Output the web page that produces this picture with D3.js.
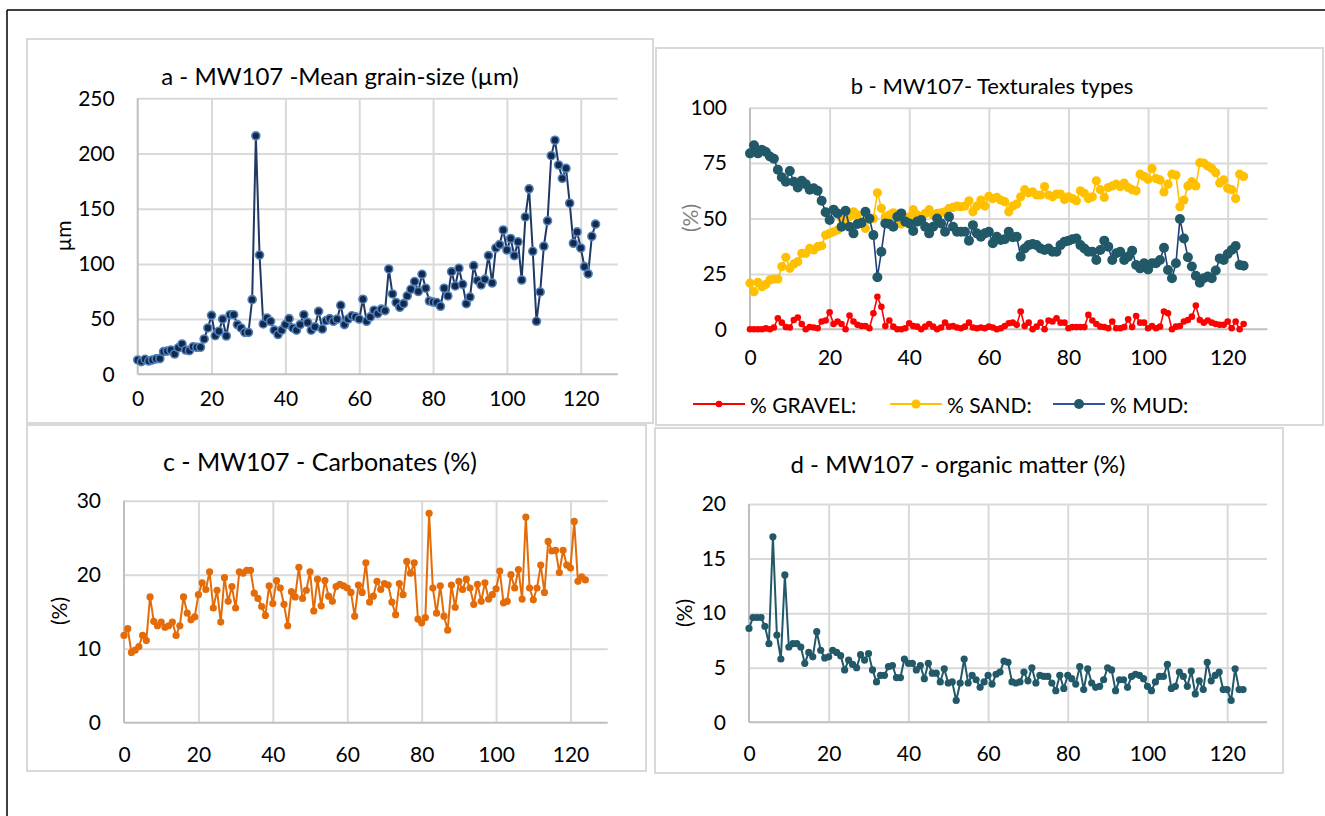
<!DOCTYPE html>
<html>
<head>
<meta charset="utf-8">
<script src="https://cdn.jsdelivr.net/npm/d3@7"></script>
<style>
  body { margin: 0; background: #fff; }
  svg { display: block; }
  text { font-family: Lato, "Open Sans", sans-serif; fill: #000; }
</style>
</head>
<body>
<svg id="fig" width="1325" height="816"></svg>
<script>
// Sample index along the core (0 = top)
const sampleIndex = d3.range(0, 125);

// a - Mean grain-size (µm)
const meanGrainSize = [
  13, 11.5, 13.6, 12, 13, 14, 14.2, 20.5, 21, 22,
  18.4, 24, 27.5, 22, 21.4, 25, 24.5, 24.5, 32, 42,
  53.4, 35, 39, 50, 34.7, 54, 54, 45, 42, 38,
  38, 67.6, 216, 108, 45.6, 51, 48, 40, 36, 40,
  45, 50.4, 42, 40, 45, 54, 47, 40, 43, 57,
  41, 48.6, 50.4, 48, 50, 62.5, 45, 50, 53, 52,
  50, 68, 48, 52, 58, 55, 59, 57.7, 95.4, 72.8,
  65, 60.7, 64, 71, 77, 84, 75, 90.6, 78, 66.4,
  65.5, 65, 61.6, 78, 71, 93, 80, 96, 81.5, 64,
  70, 98.4, 85, 81, 86, 107.5, 82.7, 114.4, 117.5, 130.7,
  112.6, 123, 107.5, 120, 85.4, 142.5, 168, 111.4, 48, 74.6,
  116, 139, 198, 212, 189.6, 177.5, 186.6, 155, 118.7, 129,
  114.4, 97.5, 91, 125, 136
];

// b - Textural fractions (%)
const gravelPct = [
  0, 0, 0, 0, 0.4, 0, 0.8, 5, 3, 1,
  0.8, 4.2, 5.3, 2.4, 0, 1, 0.8, 0.5, 3.5, 4,
  7.7, 2.4, 3.5, 2.4, 0, 6.2, 3.5, 2, 1.5, 1.5,
  0.5, 7.2, 14.7, 10.2, 1.5, 4, 1.2, 0, 0, 0.5,
  2.7, 1.5, 1.2, 0, 1.2, 2.4, 1.2, 0, 0.8, 3,
  1.2, 1.5, 0.8, 0.5, 1.2, 3, 0.8, 0.5, 0.8, 0.5,
  1.2, 0.8, 0, 0.5, 1.5, 2.7, 3, 2, 8, 1.5,
  3, 0, 1.2, 3, 0, 4, 3.5, 5, 3, 3,
  0.5, 1, 1, 1, 1, 6.5, 4, 2.4, 1.2, 1,
  0.5, 3.5, 0.5, 0.5, 1, 4.5, 1, 6, 3, 3,
  0.5, 1.5, 0.5, 1.2, 8, 7.2, 0, 1.2, 1.5, 3.5,
  4.2, 5.7, 10.7, 4.2, 3, 4, 3, 2.4, 2, 2,
  3.5, 0.5, 3.5, 0, 2.4
];
const sandPct = [
  20.8, 17, 21.2, 19.2, 20.3, 22.3, 22.7, 22.7, 28.3, 32.5,
  27.5, 29.5, 30.5, 34.3, 34.3, 36.5, 35.8, 37.3, 37.7, 42.5,
  43.3, 44, 44.8, 50, 50, 50.8, 53, 51.6, 48.6, 45.5,
  49.6, 50, 61.6, 54.6, 50.8, 51.6, 52.6, 49.3, 47.5, 49.6,
  50.8, 54, 51.6, 50.5, 52.3, 54, 51.6, 52.3, 52.6, 53,
  54.6, 55, 55.6, 55.3, 55.6, 58, 53, 55.6, 58.3, 55.6,
  60, 59, 59.5, 58.3, 57.6, 53, 55.6, 56.5, 59.8, 63,
  61.6, 62, 60.6, 60.6, 64.4, 60.6, 59.8, 61, 61, 58.6,
  59.8, 59, 58, 62.5, 61.4, 59, 59.8, 67, 63, 59.5,
  64, 64.7, 65.5, 64.4, 66, 64, 63, 62.5, 70, 69,
  67.7, 72.6, 68, 67.4, 62, 65.5, 70, 69.6, 55.3, 58.3,
  64.7, 66.6, 64.7, 75.2, 75, 73.7, 72.6, 70.7, 66, 67.4,
  63.6, 63, 59, 70, 69
];
const mudPct = [
  79.4, 83, 79.4, 81, 80, 78, 77, 72, 68.6, 66.6,
  71.4, 66.6, 64, 67, 65.5, 63, 63.6, 62.5, 58, 52.8,
  49.3, 54, 52.3, 46.3, 53.5, 46.3, 43.3, 47.5, 48, 53,
  50, 42.5, 23.5, 35, 47.8, 47.5, 46.3, 50.8, 52.3, 48.6,
  47.8, 44.4, 48.6, 49.3, 46.3, 43.3, 46.3, 50, 47.8, 44,
  50.8, 46.3, 44, 44, 44, 40, 47, 43.3, 41.8, 43.3,
  44, 38.8, 41.8, 40.3, 40.6, 44, 41.5, 41.8, 32.8, 36.5,
  38, 38.5, 38, 36.5, 35.8, 36.5, 35, 35, 38, 39.5,
  40, 40.6, 41, 38, 36.5, 35, 35, 31.3, 35.8, 40,
  37.3, 31.3, 34.3, 35, 31.3, 32.8, 35.5, 29, 27.5, 29.8,
  27, 29.8, 29.8, 31.3, 36.8, 26.8, 23, 29.8, 49.8, 41,
  32.5, 28.3, 24.2, 21, 23, 23.8, 23, 26.5, 32, 31.3,
  34, 35.8, 37.6, 29, 28.7
];

// c - Carbonates (%)
const carbonatesPct = [
  11.8, 12.7, 9.5, 9.8, 10.3, 11.8, 11.1, 17, 13.7, 13.1,
  13.6, 12.9, 13.1, 13.6, 11.8, 13.1, 17, 14.8, 13.9, 14.3,
  17.3, 18.9, 18, 20.4, 15.5, 17.9, 13.6, 19.6, 16.4, 18.4,
  15.5, 20.4, 20.2, 20.6, 20.6, 17.5, 16.8, 15.7, 14.5, 18.5,
  16.1, 19.2, 18.2, 16, 13.1, 17.7, 17, 21, 16.8, 17.9,
  20.4, 15.1, 19.4, 15.8, 19.2, 17.1, 16.4, 18.4, 18.7, 18.5,
  18.2, 17.6, 14.4, 18.6, 17.6, 21.6, 16.3, 17.1, 19.1, 18,
  18.8, 18.6, 16.3, 14.6, 18.8, 17.3, 21.8, 20.2, 21.6, 14,
  13.5, 14.2, 28.3, 18.2, 14.8, 18.5, 14.4, 12.5, 18.6, 15.6,
  19.1, 18, 19.4, 18.2, 16, 18.7, 16.4, 18.9, 16.7, 17.3,
  18.1, 20.5, 16.2, 16.4, 20, 18.2, 20.7, 16.7, 27.8, 18.2,
  16.6, 18.2, 21.3, 17.6, 24.5, 23.2, 23.3, 20.3, 23.3, 21.3,
  20.9, 27.2, 19.1, 19.7, 19.3
];

// d - Organic matter (%)
const organicMatterPct = [
  8.6, 9.6, 9.6, 9.6, 8.8, 7.2, 17, 8, 5.8, 13.5,
  6.9, 7.2, 7.2, 6.9, 5.4, 6.4, 6, 8.3, 6.6, 5.9,
  6, 6.6, 6.4, 6.1, 4.8, 5.7, 5.3, 5, 6.2, 5.7,
  6.3, 4.8, 3.7, 4.3, 4.3, 5.1, 5.2, 4.1, 4.1, 5.8,
  5.4, 5.4, 4.8, 5.2, 4, 5.4, 4.5, 4.5, 3.7, 4.9,
  3.6, 3.7, 2, 3.6, 5.8, 3.6, 4.3, 3.9, 3.2, 3.7,
  4.3, 3.5, 4.4, 4.6, 5.6, 5.5, 3.7, 3.6, 3.7, 4.6,
  3.8, 5, 3.6, 4.3, 4.2, 4.2, 3.6, 2.9, 4.3, 3.1,
  4.3, 4, 3.5, 5.1, 3, 4.9, 3.6, 3.2, 3.3, 3.9,
  5, 4.8, 2.9, 3.9, 3.9, 3.2, 4.2, 4.4, 4.3, 4,
  3.3, 2.9, 3.7, 4.2, 4.2, 5.3, 3.1, 3.3, 4.6, 4.2,
  3.3, 4.7, 2.6, 3.8, 3, 5.5, 3.8, 4.3, 4.6, 3,
  3, 2, 4.9, 3, 3
];

// Axis ticks
const xTicks = [0, 20, 40, 60, 80, 100, 120];
const yTicksA = [0, 50, 100, 150, 200, 250];
const yTicksB = [0, 25, 50, 75, 100];
const yTicksC = [0, 10, 20, 30];
const yTicksD = [0, 5, 10, 15, 20];

const svg = d3.select("#fig");
const GRID = "#d9d9d9", AXIS = "#bfbfbf";

// Outer frame (top and left edges)
svg.append("line").attr("x1", 7).attr("y1", 10).attr("x2", 1325).attr("y2", 10)
  .attr("stroke", "#000").attr("stroke-width", 1.5);
svg.append("line").attr("x1", 7).attr("y1", 10).attr("x2", 7).attr("y2", 816)
  .attr("stroke", "#000").attr("stroke-width", 1.5);

function drawPanel(p) {
  const g = svg.append("g");
  g.append("rect").attr("x", p.box[0]).attr("y", p.box[1])
    .attr("width", p.box[2] - p.box[0]).attr("height", p.box[3] - p.box[1])
    .attr("fill", "#fff").attr("stroke", GRID).attr("stroke-width", 2);

  g.append("text").attr("x", p.titleX).attr("y", p.titleY)
    .attr("text-anchor", "middle").attr("font-size", p.titleSize).text(p.title);

  const x = d3.scaleLinear().domain([0, 130]).range([p.plot[0], p.plot[2]]);
  const y = d3.scaleLinear().domain([0, p.yTicks[p.yTicks.length - 1]]).range([p.plot[3], p.plot[1]]);
  const h = p.plot[3] - p.plot[1], w = p.plot[2] - p.plot[0];

  // gridlines
  g.append("g").attr("transform", `translate(0,${p.plot[3]})`)
    .call(d3.axisBottom(x).tickValues(xTicks.slice(1)).tickSize(-h).tickFormat(""))
    .call(s => { s.select(".domain").remove(); s.selectAll("line").attr("stroke", GRID).attr("stroke-width", 2); });
  g.append("g").attr("transform", `translate(${p.plot[0]},0)`)
    .call(d3.axisLeft(y).tickValues(p.yTicks.slice(1)).tickSize(-w).tickFormat(""))
    .call(s => { s.select(".domain").remove(); s.selectAll("line").attr("stroke", GRID).attr("stroke-width", 2); });

  // axis lines
  g.append("line").attr("x1", p.plot[0]).attr("x2", p.plot[0]).attr("y1", p.plot[1]).attr("y2", p.plot[3])
    .attr("stroke", AXIS).attr("stroke-width", 2);
  g.append("line").attr("x1", p.plot[0]).attr("x2", p.plot[2]).attr("y1", p.plot[3]).attr("y2", p.plot[3])
    .attr("stroke", AXIS).attr("stroke-width", 2);

  // tick labels
  g.append("g").attr("transform", `translate(0,${p.plot[3]})`)
    .call(d3.axisBottom(x).tickValues(xTicks).tickSize(0).tickPadding(p.xPad))
    .call(s => { s.select(".domain").remove(); s.selectAll("text").attr("font-size", 21).attr("font-family", "Lato").attr("fill", "#000"); });
  g.append("g").attr("transform", `translate(${p.plot[0]},0)`)
    .call(d3.axisLeft(y).tickValues(p.yTicks).tickSize(0).tickPadding(p.yPad))
    .call(s => { s.select(".domain").remove(); s.selectAll("text").attr("font-size", 21).attr("font-family", "Lato").attr("fill", "#000"); });

  // y-axis title
  g.append("text").attr("transform", `translate(${p.yLabel[0]},${p.yLabel[1]}) rotate(-90)`)
    .attr("text-anchor", "middle").attr("dominant-baseline", "central")
    .attr("font-size", 21).style("fill", p.yLabelColor || "#000").text(p.yLabelText);

  // series
  p.series.forEach(s => {
    const pts = sampleIndex.map((i, k) => [i, s.values[k]]);
    g.append("path").datum(pts)
      .attr("d", d3.line().x(d => x(d[0])).y(d => y(d[1])))
      .attr("fill", "none").attr("stroke", s.line).attr("stroke-width", s.lw || 2)
      .attr("stroke-linejoin", "round");
    g.append("g").selectAll("circle").data(pts).join("circle")
      .attr("cx", d => x(d[0])).attr("cy", d => y(d[1])).attr("r", s.r)
      .attr("fill", s.fill).attr("stroke", s.stroke || "none").attr("stroke-width", s.sw || 0);
  });
  return { x, y };
}

// a
drawPanel({
  box: [27, 39, 653, 423], plot: [137.7, 98.3, 617.7, 374.3],
  title: "a - MW107 -Mean grain-size (µm)", titleX: 340, titleY: 85, titleSize: 24,
  yTicks: yTicksA, xPad: 17, yPad: 23,
  yLabel: [62, 236], yLabelText: "µm",
  series: [{ values: meanGrainSize, line: "#1f3864", r: 4, fill: "#14284a", stroke: "#4f81bd", sw: 1.6 }]
});

// b
drawPanel({
  box: [656, 48, 1323, 425], plot: [750, 107.7, 1267.5, 329.3],
  title: "b - MW107- Texturales types", titleX: 992, titleY: 94, titleSize: 22,
  yTicks: yTicksB, xPad: 21, yPad: 23,
  yLabel: [689, 218], yLabelText: "(%)", yLabelColor: "#7f7f7f",
  series: [
    { values: gravelPct, line: "#ff0000", r: 3.3, fill: "#ff0000", lw: 1.6 },
    { values: sandPct, line: "#ffc000", r: 4.6, fill: "#ffc000", lw: 1.6 },
    { values: mudPct, line: "#1f3f7a", r: 5, fill: "#215968", lw: 1.6 }
  ]
});

// legend for b
const legendItems = [
  { label: "% GRAVEL:", color: "#ff0000", marker: "#ff0000", r: 3.3, x: 693 },
  { label: "% SAND:", color: "#ffc000", marker: "#ffc000", r: 4.6, x: 890 },
  { label: "% MUD:", color: "#2e5597", marker: "#215968", r: 5, x: 1053 }
];
const lg = svg.append("g");
legendItems.forEach(it => {
  lg.append("line").attr("x1", it.x).attr("x2", it.x + 52).attr("y1", 404).attr("y2", 404)
    .attr("stroke", it.color).attr("stroke-width", 2);
  lg.append("circle").attr("cx", it.x + 26).attr("cy", 404).attr("r", it.r).attr("fill", it.marker);
  lg.append("text").attr("x", it.x + 57).attr("y", 404).attr("dominant-baseline", "central")
    .attr("font-size", 21).text(it.label);
});

// c
drawPanel({
  box: [27, 425, 646, 771], plot: [124, 500.7, 607.7, 722.7],
  title: "c - MW107 - Carbonates (%)", titleX: 320, titleY: 471, titleSize: 25,
  yTicks: yTicksC, xPad: 24, yPad: 23,
  yLabel: [58, 611], yLabelText: "(%)",
  series: [{ values: carbonatesPct, line: "#e36c09", r: 3.6, fill: "#e36c09", lw: 2 }]
});

// d
drawPanel({
  box: [655, 428, 1283, 773], plot: [749, 504, 1267, 722.3],
  title: "d - MW107 - organic matter (%)", titleX: 958, titleY: 473, titleSize: 24,
  yTicks: yTicksD, xPad: 24, yPad: 23,
  yLabel: [683, 613], yLabelText: "(%)",
  series: [{ values: organicMatterPct, line: "#215968", r: 3.6, fill: "#215968", lw: 2 }]
});
</script>
</body>
</html>
